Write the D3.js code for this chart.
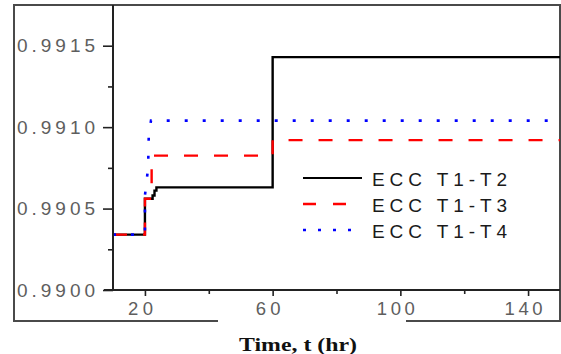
<!DOCTYPE html>
<html>
<head>
<meta charset="utf-8">
<script src="https://cdn.jsdelivr.net/npm/d3@7/dist/d3.min.js"></script>
<style>
  html, body { margin: 0; padding: 0; background: #fff; }
  svg { display: block; }
</style>
</head>
<body>
<svg id="chart" width="561" height="354"></svg>
<script>
// ---- data ----
const timeT2 = [10, 20, 20, 22.4, 22.4, 23.0, 23.0, 23.6, 23.6, 25, 60, 60, 150];
const eccT2  = [0.99034, 0.99034, 0.99056, 0.99056, 0.99058, 0.99058, 0.99061, 0.99061, 0.99063, 0.99063, 0.99063, 0.99143, 0.99143];

const timeT3 = [10, 20, 20, 22.1, 22.1, 60, 60, 150];
const eccT3  = [0.99034, 0.99034, 0.99056, 0.99056, 0.990825, 0.990825, 0.99092, 0.99092];

const timeT4 = [10, 20, 20, 21.0, 21.2, 21.9, 150];
const eccT4  = [0.99034, 0.99034, 0.99058, 0.99075, 0.99095, 0.99104, 0.99104];

const seriesNames = ["ECC T1-T2", "ECC T1-T3", "ECC T1-T4"];
const xTickValues = [20, 40, 60, 80, 100, 120, 140];
const xTickLabels = ["20", "", "60", "", "100", "", "140"];
const yTickValues = [0.9900, 0.99025, 0.9905, 0.99075, 0.9910, 0.99125, 0.9915];
const yTickLabels = ["0.9900", "", "0.9905", "", "0.9910", "", "0.9915"];
const xTitle = "Time, t (hr)";

// ---- layout ----
const svg = d3.select("#chart");
const x = d3.scaleLinear().domain([10, 150]).range([113, 560]);
const y = d3.scaleLinear().domain([0.99, 0.99175]).range([290, 5]);

// outer frame (with gap for axis title)
svg.append("path")
  .attr("d", "M218,321 L14,321 L14,5 L560,5 L560,321 L406,321")
  .attr("fill", "none").attr("stroke", "#4a4a4a").attr("stroke-width", 2);

// series
const lineGen = d3.line().x(d => x(d[0])).y(d => y(d[1])).curve(d3.curveLinear);
const series = [
  { t: timeT2, v: eccT2, color: "#000000", dash: null, w: 2.4 },
  { t: timeT3, v: eccT3, color: "#ff0000", dash: "14,16", w: 2.4 },
  { t: timeT4, v: eccT4, color: "#0000ff", dash: "3,15", w: 2.6 }
];
series.forEach(s => {
  svg.append("path")
    .datum(d3.zip(s.t, s.v))
    .attr("d", lineGen)
    .attr("fill", "none")
    .attr("stroke", s.color)
    .attr("stroke-width", s.w)
    .attr("stroke-dasharray", s.dash);
});

// x axis
const xAxis = d3.axisBottom(x).tickValues(xTickValues).tickFormat("").tickSizeOuter(0);
const gx = svg.append("g").attr("transform", "translate(0,290)").call(xAxis);
gx.select(".domain").remove();
gx.selectAll(".tick line").attr("stroke", "#222").attr("stroke-width", 1.6)
  .attr("y2", (d, i) => xTickLabels[i] ? 6 : 4);
svg.append("line").attr("x1", 104).attr("x2", 560).attr("y1", 290).attr("y2", 290)
  .attr("stroke", "#222").attr("stroke-width", 2);
const xLabelW = { 2: 25, 3: 38 };
xTickValues.forEach((v, i) => {
  const lab = xTickLabels[i];
  if (!lab) return;
  const w = xLabelW[lab.length];
  svg.append("text")
    .attr("x", x(v) - 4.5 - w / 2).attr("y", 315)
    .attr("textLength", w).attr("lengthAdjust", "spacing")
    .attr("font-family", "Liberation Sans, Arial, sans-serif")
    .attr("font-size", 18.5).attr("fill", "#5e5e5e")
    .text(lab);
});

// y axis
const yAxis = d3.axisLeft(y).tickValues(yTickValues).tickFormat("").tickSizeOuter(0);
const gy = svg.append("g").attr("transform", "translate(113,0)").call(yAxis);
gy.select(".domain").remove();
gy.selectAll(".tick line").attr("stroke", "#222").attr("stroke-width", 1.6)
  .attr("x2", (d, i) => yTickLabels[i] ? -10 : -5);
svg.append("line").attr("x1", 113).attr("x2", 113).attr("y1", 5).attr("y2", 290)
  .attr("stroke", "#222").attr("stroke-width", 2);
yTickValues.forEach((v, i) => {
  const lab = yTickLabels[i];
  if (!lab) return;
  svg.append("text")
    .attr("x", 17).attr("y", y(v) + 6.5)
    .attr("textLength", 78).attr("lengthAdjust", "spacing")
    .attr("font-family", "Liberation Sans, Arial, sans-serif")
    .attr("font-size", 19).attr("fill", "#5e5e5e")
    .text(lab);
});

// axis title
svg.append("text")
  .attr("x", 239).attr("y", 351)
  .attr("textLength", 118).attr("lengthAdjust", "spacingAndGlyphs")
  .attr("font-family", "Liberation Serif, Times New Roman, serif")
  .attr("font-weight", "bold").attr("font-size", 19)
  .attr("fill", "#111")
  .text(xTitle);

// legend
const legY = [178, 204, 230];
series.forEach((s, i) => {
  svg.append("line")
    .attr("x1", 303).attr("x2", 362).attr("y1", legY[i]).attr("y2", legY[i])
    .attr("stroke", s.color).attr("stroke-width", i === 0 ? 2 : 2.4)
    .attr("stroke-dasharray", i === 0 ? null : (i === 1 ? "13,17" : "3,12"));
  svg.append("text")
    .attr("x", 372).attr("y", legY[i] + 8)
    .attr("textLength", 135).attr("lengthAdjust", "spacing")
    .attr("font-family", "Liberation Sans, Arial, sans-serif")
    .attr("font-size", 19).attr("fill", "#1a1a1a")
    .text(seriesNames[i]);
});
</script>
</body>
</html>
